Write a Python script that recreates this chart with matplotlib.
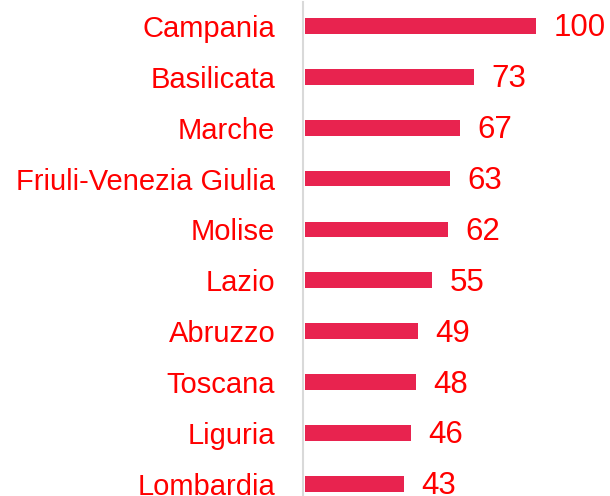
import matplotlib
matplotlib.use('Agg')
import matplotlib.pyplot as plt

regions = ['Campania', 'Basilicata', 'Marche', 'Friuli-Venezia Giulia', 'Molise',
           'Lazio', 'Abruzzo', 'Toscana', 'Liguria', 'Lombardia']
values = [100, 73, 67, 63, 62, 55, 49, 48, 46, 43]

plt.rcParams['font.family'] = ['Liberation Sans', 'DejaVu Sans']

fig = plt.figure(figsize=(6.10, 4.96), dpi=100)
ax = fig.add_axes([303 / 610, 0, 1 - 303 / 610, 1 - 2 / 496])

pos = list(range(len(regions)))
ax.barh(pos, values, height=0.31, color='#E8234F', left=0)

for p, v in zip(pos, values):
    ax.text(v + 7.5, p + 0.05, str(v), va='center', ha='left', fontsize=22.5, color='#FF0000')

ax.set_xlim(-0.8, 132)
ax.set_ylim(9.24, -0.47)
ax.set_yticks(pos)
ax.set_yticklabels(regions, fontsize=21, color='#FF0000')
ax.tick_params(axis='y', length=0, pad=20)
ax.set_xticks([])

for s in ['top', 'right', 'bottom']:
    ax.spines[s].set_visible(False)
ax.spines['left'].set_color('#D9D9D9')
ax.spines['left'].set_linewidth(1.5)

fig.savefig('out.png', dpi=100)
